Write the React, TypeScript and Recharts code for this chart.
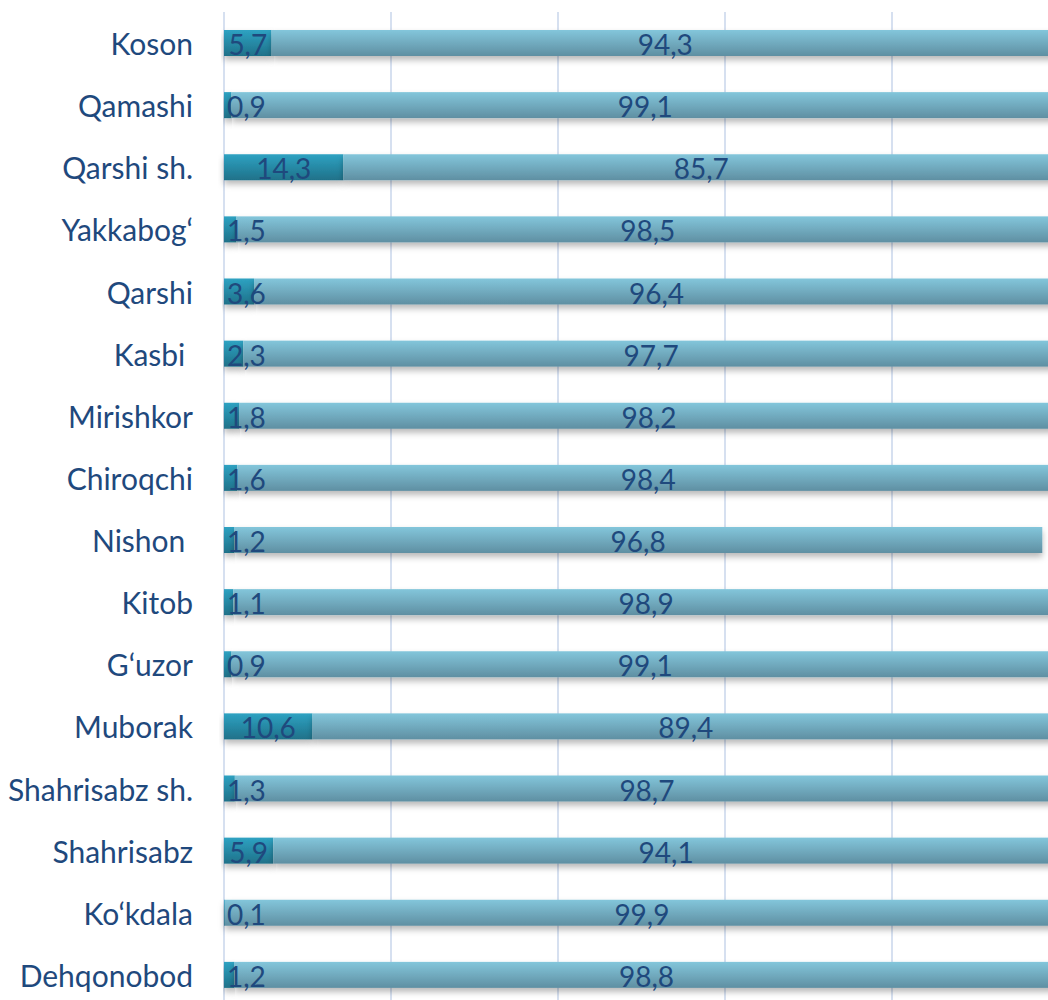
import * as React from "react";
import { BarChart, Bar, XAxis, YAxis, CartesianGrid, LabelList } from "recharts";

const districts = [
    "Koson",
    "Qamashi",
    "Qarshi sh.",
    "Yakkabog\u2018",
    "Qarshi",
    "Kasbi ",
    "Mirishkor",
    "Chiroqchi",
    "Nishon ",
    "Kitob",
    "G\u2018uzor",
    "Muborak",
    "Shahrisabz sh.",
    "Shahrisabz",
    "Ko\u2018kdala",
    "Dehqonobod",
];
const darkShare = [5.7, 0.9, 14.3, 1.5, 3.6, 2.3, 1.8, 1.6, 1.2, 1.1, 0.9, 10.6, 1.3, 5.9, 0.1, 1.2];
const lightShare = [94.3, 99.1, 85.7, 98.5, 96.4, 97.7, 98.2, 98.4, 96.8, 98.9, 99.1, 89.4, 98.7, 94.1, 99.9, 98.8];
const xTicks = [0, 20, 40, 60, 80, 100];

const data = districts.map((name, i) => ({ name, a: darkShare[i], b: lightShare[i] }));

const FONT = "Lato, 'Open Sans', sans-serif";
const TICK_SIZE = 30;
const LABEL_SIZE = 28;
const TEXT_COLOR = "#1F497D";
const PLOT_LEFT = 224;

let ctx: CanvasRenderingContext2D | null = null;
function textWidth(s: string) {
    if (!ctx) ctx = document.createElement("canvas").getContext("2d");
    if (!ctx) return s.length * LABEL_SIZE * 0.5;
    ctx.font = `${LABEL_SIZE}px Lato`;
    return ctx.measureText(s).width;
}

const fmt = (v: number) => v.toFixed(1).replace(".", ",");

function SegmentLabel(props: any) {
    const { x, y, width, height, value } = props;
    const s = fmt(Number(value));
    const w = textWidth(s);
    let cx = x + width / 2;
    // keep tiny-segment labels inside the plot, like Excel does
    if (cx - w / 2 < PLOT_LEFT + 3) cx = PLOT_LEFT + 3 + w / 2;
    return (
        <text
            x={cx}
            y={y + height / 2 + 1}
            textAnchor="middle"
            dominantBaseline="central"
            fill={TEXT_COLOR}
            fontFamily={FONT}
            fontSize={LABEL_SIZE}
        >
            {s}
        </text>
    );
}

function DistrictTick(props: any) {
    const { y, payload } = props;
    return (
        <text
            x={193}
            y={y}
            textAnchor="end"
            dominantBaseline="central"
            fill={TEXT_COLOR}
            fontFamily={FONT}
            fontSize={TICK_SIZE}
            style={{ whiteSpace: "pre" }}
        >
            {payload.value}
        </text>
    );
}

const shadowRect = (gradId: string) => (p: any) =>
    p.width > 0 ? (
        <rect x={p.x} y={p.y} width={p.width} height={p.height} fill={`url(#${gradId})`} filter="url(#barShadow)" />
    ) : null;

export default function App() {
    return (
        <div style={{ position: "absolute", left: 0, top: 0, width: 1048, height: 1000, overflow: "hidden", background: "#fff" }}>
            <BarChart
                width={1072}
                height={1020}
                data={data}
                layout="vertical"
                margin={{ top: 12, right: 13, bottom: 14, left: 0 }}
                barSize={26}
            >
                <defs>
                    <linearGradient id="gradDark" x1="0" y1="0" x2="0" y2="1">
                        <stop offset="0%" stopColor="#2EA2C2" />
                        <stop offset="100%" stopColor="#1F7189" />
                    </linearGradient>
                    <linearGradient id="gradLight" x1="0" y1="0" x2="0" y2="1">
                        <stop offset="0%" stopColor="#83C6DB" />
                        <stop offset="100%" stopColor="#5F8FA2" />
                    </linearGradient>
                    <filter id="barShadow" x="-5%" y="-50%" width="110%" height="220%">
                        <feDropShadow dx="0" dy="4" stdDeviation="3" floodColor="#000" floodOpacity="0.28" />
                    </filter>
                </defs>
                <CartesianGrid horizontal={false} stroke="#D6E0F0" strokeWidth={2} />
                <XAxis type="number" domain={[0, 100]} ticks={xTicks} hide />
                <YAxis
                    type="category"
                    dataKey="name"
                    width={224}
                    axisLine={false}
                    tickLine={false}
                    tick={<DistrictTick />}
                    interval={0}
                />
                <Bar dataKey="a" stackId="s" isAnimationActive={false} shape={shadowRect("gradDark")}>
                    <LabelList dataKey="a" content={<SegmentLabel />} />
                </Bar>
                <Bar dataKey="b" stackId="s" isAnimationActive={false} shape={shadowRect("gradLight")}>
                    <LabelList dataKey="b" content={<SegmentLabel />} />
                </Bar>
            </BarChart>
        </div>
    );
}
